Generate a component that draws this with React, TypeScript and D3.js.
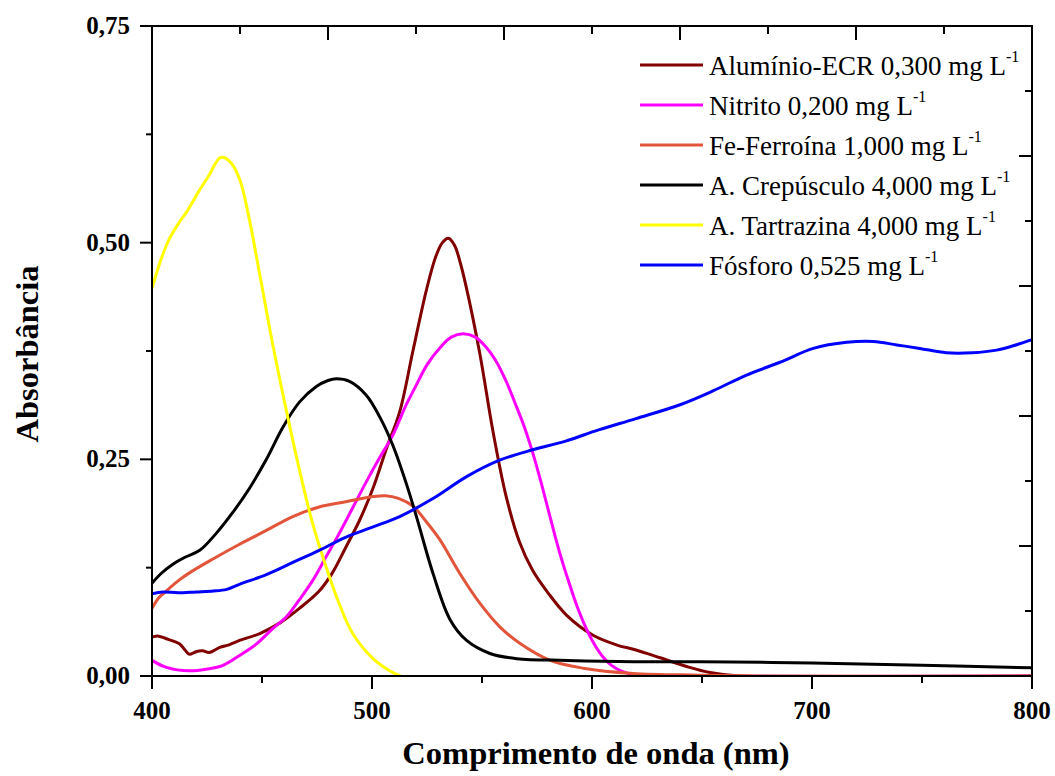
import React from "react";
import * as d3 from "d3";

type Pt = [number, number];

// Absorption spectra: [wavelength (nm), absorbance]
const aluminioECR: Pt[] = [
  [400, 0.045], [403, 0.046], [406.5, 0.043], [410, 0.040], [412.6, 0.037], [415, 0.030],
  [417, 0.025], [420, 0.028], [423, 0.029], [426, 0.027], [430.8, 0.033], [435, 0.036],
  [439.8, 0.041], [449, 0.049], [458, 0.061], [467, 0.078], [476, 0.098], [482, 0.119],
  [488, 0.148], [494.4, 0.18], [500.5, 0.217], [506.5, 0.262], [512.6, 0.305], [518.6, 0.375],
  [524.7, 0.445], [529, 0.484], [532, 0.5], [534.7, 0.505], [537.5, 0.497], [540, 0.478],
  [543, 0.447], [549, 0.372], [555, 0.282], [561, 0.207], [567, 0.155], [573, 0.122],
  [580, 0.096], [588.5, 0.07], [600.5, 0.047], [611, 0.036], [620, 0.03], [631, 0.021],
  [643, 0.011], [653.6, 0.004], [667, 0], [800, 0],
];

const nitrito: Pt[] = [
  [400, 0.018], [406.5, 0.01], [417, 0.006], [425, 0.008], [432, 0.012], [440, 0.024],
  [447.5, 0.037], [455, 0.055], [461, 0.068], [467, 0.088], [473, 0.11], [479, 0.137],
  [485, 0.164], [491, 0.193], [497.4, 0.224], [503.5, 0.252], [509.5, 0.278], [515, 0.31],
  [520, 0.335], [525, 0.359], [531, 0.379], [536, 0.391], [541.5, 0.395], [547, 0.391],
  [552, 0.379], [556, 0.365], [561, 0.34], [565, 0.315], [569, 0.289], [573, 0.258],
  [577, 0.222], [581, 0.183], [585, 0.145], [589, 0.112], [593, 0.082], [597, 0.057],
  [601, 0.037], [605, 0.022], [609, 0.012], [614, 0.005], [620, 0.001], [628, 0], [800, 0],
];

const feFerroina: Pt[] = [
  [400, 0.078], [403, 0.09], [406.5, 0.098], [412, 0.11], [417, 0.119], [427.7, 0.135],
  [439.8, 0.152], [452, 0.168], [464, 0.184], [476, 0.195], [488, 0.201], [500.5, 0.207],
  [506, 0.208], [512, 0.205], [518.6, 0.196], [524.7, 0.178], [530.9, 0.157], [540, 0.118],
  [549, 0.084], [558, 0.057], [567, 0.038], [581, 0.018], [596, 0.009], [618.6, 0.003],
  [649, 0.001], [680, 0], [800, 0],
];

const crepusculo: Pt[] = [
  [400, 0.107], [404, 0.118], [409.5, 0.129], [415, 0.137], [421.7, 0.145], [429, 0.164],
  [436.8, 0.189], [444.4, 0.217], [452, 0.25], [459.5, 0.287], [467, 0.316], [474.7, 0.334],
  [480, 0.341], [483.8, 0.343], [489.8, 0.34], [497.4, 0.324], [503.5, 0.299], [509.5, 0.266],
  [515.6, 0.222], [520.3, 0.183], [527.9, 0.117], [535.5, 0.065], [543, 0.041], [553.6, 0.026],
  [565.8, 0.02], [588.5, 0.018], [618.6, 0.0165], [649, 0.0165], [700, 0.015], [750, 0.0125],
  [800, 0.0095],
];

const tartrazina: Pt[] = [
  [400, 0.447], [404, 0.48], [408, 0.505], [412, 0.522], [415.6, 0.535], [418, 0.545],
  [421.7, 0.561], [426, 0.578], [429, 0.592], [431, 0.598], [433, 0.598], [436, 0.592],
  [440, 0.572], [444, 0.53], [449, 0.463], [455, 0.381], [461, 0.307], [467, 0.238],
  [473, 0.176], [479, 0.127], [485, 0.084], [491, 0.05], [500.5, 0.02], [508, 0.006],
  [513, 0],
];

const fosforo: Pt[] = [
  [400, 0.095], [405, 0.097], [412, 0.096], [420, 0.097], [428, 0.098], [434, 0.1],
  [440, 0.106], [452, 0.117], [464, 0.131], [476, 0.145], [488, 0.16], [500.5, 0.172],
  [512.6, 0.184], [527.9, 0.205], [543, 0.23], [558, 0.249], [573, 0.261], [588, 0.271],
  [603, 0.284], [620, 0.297], [640, 0.313], [655, 0.329], [670, 0.347], [685.5, 0.362],
  [700.6, 0.378], [715.8, 0.385], [727.9, 0.386], [738.5, 0.382], [749, 0.378], [761, 0.373],
  [773, 0.373], [783.9, 0.376], [791.5, 0.381], [800, 0.388],
];

const seriesNames = [
  "Alumínio-ECR 0,300 mg L",
  "Nitrito 0,200 mg L",
  "Fe-Ferroína 1,000 mg L",
  "A. Crepúsculo 4,000 mg L",
  "A. Tartrazina 4,000 mg L",
  "Fósforo 0,525 mg L",
];
const seriesData = [aluminioECR, nitrito, feFerroina, crepusculo, tartrazina, fosforo];
const seriesColors = ["#800000", "#ff00ff", "#e2553a", "#000000", "#ffff00", "#0000ff"];

const xTicks = [400, 500, 600, 700, 800];
const xMinorTicks = [450, 550, 650, 750];
const yTicks = [0, 0.25, 0.5, 0.75];
const yMinorTicks = [0.125, 0.375, 0.625];
const topTicks = [440, 480, 520, 560, 600, 640, 680, 720, 760];
const rightTicks = [0.075, 0.15, 0.225, 0.3, 0.375, 0.45, 0.525, 0.6, 0.675];

const W = 1055;
const H = 776;
const M = { left: 152, right: 1032, top: 26, bottom: 676 };
const FONT = "'Liberation Serif', 'Times New Roman', serif";
const fmt = (v: number) => v.toFixed(2).replace(".", ",");

export default function App() {
  const x = d3.scaleLinear().domain([400, 800]).range([M.left, M.right]);
  const y = d3.scaleLinear().domain([0, 0.75]).range([M.bottom, M.top]);
  const line = d3
    .line<Pt>()
    .x((d) => x(d[0]))
    .y((d) => y(d[1]))
    .curve(d3.curveCatmullRom.alpha(0.5));

  const legendX0 = 640;
  const legendX1 = 703;
  const legendY0 = 65;
  const legendDy = 40;
  const textStyle = { fontFamily: FONT };

  return (
    <svg
      width={W}
      height={H}
      style={{ position: "fixed", left: 0, top: 0, background: "#fff" }}
    >
      <defs>
        <clipPath id="plot-clip">
          <rect x={M.left} y={M.top - 2} width={M.right - M.left} height={M.bottom - M.top + 2} />
        </clipPath>
      </defs>
      <rect width={W} height={H} fill="#fff" />

      {/* spectra */}
      <g clipPath="url(#plot-clip)" fill="none" strokeWidth={3} strokeLinejoin="round">
        {seriesData.map((d, i) => (
          <path key={i} d={line(d) ?? ""} stroke={seriesColors[i]} />
        ))}
      </g>

      {/* frame */}
      <rect
        x={M.left}
        y={M.top}
        width={M.right - M.left}
        height={M.bottom - M.top}
        fill="none"
        stroke="#000"
        strokeWidth={2}
      />

      {/* ticks on all four sides */}
      <g stroke="#000" strokeWidth={2}>
        {xTicks.map((t) => (
          <line key={t} x1={x(t)} x2={x(t)} y1={M.bottom} y2={M.bottom + 13} />
        ))}
        {xMinorTicks.map((t) => (
          <line key={t} x1={x(t)} x2={x(t)} y1={M.bottom} y2={M.bottom + 7} />
        ))}
        {yTicks.map((t) => (
          <line key={t} x1={M.left - 12} x2={M.left} y1={y(t)} y2={y(t)} />
        ))}
        {yMinorTicks.map((t) => (
          <line key={t} x1={M.left - 6} x2={M.left} y1={y(t)} y2={y(t)} />
        ))}
        {topTicks.map((t, i) => (
          <line key={t} x1={x(t)} x2={x(t)} y1={M.top} y2={M.top + (i % 2 === 1 ? 14 : 8)} />
        ))}
        {rightTicks.map((t, i) => (
          <line key={t} x1={M.right - (i % 2 === 1 ? 13 : 7)} x2={M.right} y1={y(t)} y2={y(t)} />
        ))}
      </g>

      <g fontWeight="bold" fontSize={25} fill="#000" style={textStyle}>
        {xTicks.map((t) => (
          <text key={t} x={x(t)} y={M.bottom + 43} textAnchor="middle" style={textStyle}>
            {t}
          </text>
        ))}
        {yTicks.map((t) => (
          <text key={t} x={M.left - 22} y={y(t) + 8} textAnchor="end" style={textStyle}>
            {fmt(t)}
          </text>
        ))}
      </g>

      <text
        x={(M.left + M.right) / 2 + 4}
        y={764}
        textAnchor="middle"
        fontWeight="bold"
        fontSize={32.5}
        style={textStyle}
      >
        Comprimento de onda (nm)
      </text>
      <text
        transform={`translate(38, ${(M.top + M.bottom) / 2 + 3}) rotate(-90)`}
        textAnchor="middle"
        fontWeight="bold"
        fontSize={32.5}
        style={textStyle}
      >
        Absorbância
      </text>

      {/* legend */}
      <g>
        {seriesNames.map((name, i) => {
          const ly = legendY0 + i * legendDy;
          return (
            <g key={name}>
              <line
                x1={legendX0}
                x2={legendX1}
                y1={ly}
                y2={ly}
                stroke={seriesColors[i]}
                strokeWidth={3}
              />
              <text x={legendX1 + 6} y={ly + 10} fontSize={27} fill="#000" style={textStyle}>
                {name}
                <tspan dy={-13} fontSize={16}>
                  -1
                </tspan>
              </text>
            </g>
          );
        })}
      </g>
    </svg>
  );
}
